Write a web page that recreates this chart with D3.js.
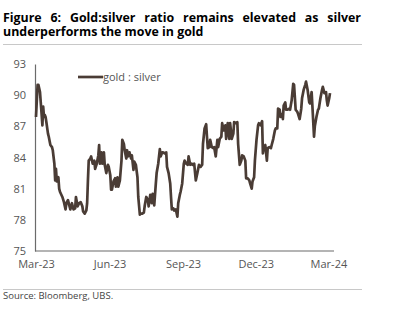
<!DOCTYPE html>
<html>
<head>
<meta charset="utf-8">
<script src="https://cdn.jsdelivr.net/npm/d3@7"></script>
<style>
  body { margin: 0; background: #fff; }
  svg { display: block; font-family: "Open Sans", "Noto Sans", sans-serif; }
</style>
</head>
<body>
<div id="chart"></div>
<script>
// gold:silver ratio
const dates = [
  "2023-03-01","2023-03-03","2023-03-04","2023-03-06","2023-03-08","2023-03-09","2023-03-10","2023-03-11",
  "2023-03-12","2023-03-13","2023-03-14","2023-03-16","2023-03-17","2023-03-19","2023-03-21","2023-03-22",
  "2023-03-24","2023-03-25","2023-03-26","2023-03-27","2023-03-29","2023-03-30","2023-03-31","2023-04-03",
  "2023-04-05","2023-04-07","2023-04-08","2023-04-10","2023-04-12","2023-04-13","2023-04-15","2023-04-17",
  "2023-04-19","2023-04-20","2023-04-22","2023-04-24","2023-04-26","2023-04-28","2023-04-29","2023-05-01",
  "2023-05-03","2023-05-04","2023-05-05","2023-05-06","2023-05-08","2023-05-09","2023-05-11","2023-05-13",
  "2023-05-14","2023-05-16","2023-05-18","2023-05-19","2023-05-20","2023-05-22","2023-05-23","2023-05-25",
  "2023-05-26","2023-05-28","2023-05-30","2023-05-31","2023-06-02","2023-06-03","2023-06-04","2023-06-06",
  "2023-06-08","2023-06-09","2023-06-11","2023-06-12","2023-06-14","2023-06-16","2023-06-17","2023-06-19",
  "2023-06-20","2023-06-22","2023-06-23","2023-06-24","2023-06-26","2023-06-28","2023-06-29","2023-07-01",
  "2023-07-02","2023-07-04","2023-07-06","2023-07-07","2023-07-09","2023-07-10","2023-07-12","2023-07-14",
  "2023-07-15","2023-07-17","2023-07-19","2023-07-20","2023-07-22","2023-07-24","2023-07-25","2023-07-27",
  "2023-07-29","2023-07-30","2023-08-01","2023-08-03","2023-08-04","2023-08-06","2023-08-07","2023-08-09",
  "2023-08-11","2023-08-12","2023-08-14","2023-08-16","2023-08-17","2023-08-18","2023-08-20","2023-08-21",
  "2023-08-23","2023-08-25","2023-08-26","2023-08-28","2023-08-29","2023-08-31","2023-09-02","2023-09-03",
  "2023-09-05","2023-09-07","2023-09-08","2023-09-10","2023-09-12","2023-09-13","2023-09-15","2023-09-17",
  "2023-09-19","2023-09-21","2023-09-23","2023-09-25","2023-09-26","2023-09-28","2023-09-30","2023-10-01",
  "2023-10-02","2023-10-04","2023-10-05","2023-10-07","2023-10-09","2023-10-10","2023-10-12","2023-10-14",
  "2023-10-15","2023-10-17","2023-10-19","2023-10-20","2023-10-22","2023-10-24","2023-10-25","2023-10-27",
  "2023-10-29","2023-10-30","2023-11-01","2023-11-03","2023-11-04","2023-11-06","2023-11-08","2023-11-09",
  "2023-11-11","2023-11-13","2023-11-14","2023-11-16","2023-11-18","2023-11-19","2023-11-21","2023-11-23",
  "2023-11-24","2023-11-26","2023-11-27","2023-11-29","2023-11-30","2023-12-02","2023-12-04","2023-12-05",
  "2023-12-07","2023-12-09","2023-12-10","2023-12-11","2023-12-13","2023-12-15","2023-12-16","2023-12-18",
  "2023-12-20","2023-12-21","2023-12-23","2023-12-25","2023-12-26","2023-12-28","2023-12-29","2023-12-31",
  "2024-01-01","2024-01-03","2024-01-04","2024-01-05","2024-01-07","2024-01-08","2024-01-10","2024-01-12",
  "2024-01-13","2024-01-15","2024-01-17","2024-01-18","2024-01-20","2024-01-22","2024-01-23","2024-01-25",
  "2024-01-27","2024-01-28","2024-01-30","2024-02-01","2024-02-02","2024-02-04","2024-02-06","2024-02-07",
  "2024-02-09","2024-02-10","2024-02-12","2024-02-13","2024-02-15","2024-02-17","2024-02-18","2024-02-20",
  "2024-02-22","2024-02-23","2024-02-25","2024-02-27","2024-02-28","2024-02-29","2024-03-02","2024-03-03"
];

const ratio = [
  87.9, 91.0, 91.0, 90.3, 88.2, 87.1, 88.9, 87.9,
  88.1, 87.9, 87.4, 86.3, 86.0, 85.2, 85.0, 84.7,
  83.4, 81.8, 82.9, 81.7, 82.1, 81.0, 80.7, 80.2,
  79.7, 79.0, 79.6, 79.9, 79.3, 79.0, 79.6, 79.0,
  79.1, 80.2, 79.3, 79.6, 79.7, 79.3, 78.8, 78.6,
  78.9, 79.6, 81.8, 83.7, 83.9, 84.1, 83.4, 83.7,
  82.9, 83.4, 84.2, 85.2, 83.4, 84.5, 83.4, 84.5,
  83.3, 82.5, 83.3, 83.1, 82.3, 80.9, 80.9, 81.7,
  82.0, 81.2, 82.1, 81.2, 81.8, 83.7, 85.7, 85.3,
  84.7, 83.9, 84.7, 84.1, 84.5, 83.9, 84.2, 82.8,
  83.6, 83.3, 82.1, 80.2, 78.5, 78.6, 78.6, 78.7,
  79.3, 80.2, 79.9, 79.3, 80.4, 79.6, 80.5, 79.4,
  81.5, 82.5, 83.4, 84.8, 84.1, 84.5, 84.5, 84.4,
  84.5, 83.1, 82.5, 81.5, 80.2, 79.0, 79.1, 78.9,
  79.0, 78.3, 79.6, 80.4, 80.7, 81.5, 83.4, 83.7,
  83.4, 83.3, 84.1, 83.3, 83.4, 83.3, 83.4, 81.8,
  82.5, 83.3, 83.1, 83.3, 85.3, 86.8, 87.2, 86.0,
  84.9, 85.0, 85.7, 85.0, 84.9, 85.0, 84.1, 85.7,
  85.0, 85.8, 86.0, 87.3, 86.6, 87.1, 85.8, 87.3,
  85.8, 87.3, 85.8, 86.3, 87.4, 87.3, 87.4, 85.3,
  83.3, 83.7, 84.2, 84.1, 83.7, 82.0, 82.0, 81.8,
  81.5, 81.0, 81.7, 82.1, 83.7, 85.7, 87.1, 87.3,
  87.1, 87.5, 84.4, 85.0, 85.2, 83.7, 84.9, 85.0,
  84.9, 85.2, 85.8, 86.6, 86.8, 86.8, 88.7, 88.6,
  87.9, 88.2, 87.7, 89.0, 89.3, 88.6, 88.6, 88.7,
  88.6, 89.5, 91.1, 91.0, 88.6, 88.4, 88.2, 87.7,
  88.7, 89.7, 90.5, 91.0, 91.3, 90.5, 89.3, 89.2,
  90.3, 88.9, 86.0, 87.0, 87.9, 88.6, 88.7, 89.7,
  90.5, 90.8, 90.2, 90.3, 89.5, 89.0, 89.7, 90.2
];

const yTicks = [75, 78, 81, 84, 87, 90, 93];
const xTickDates = ["2023-03-01", "2023-06-01", "2023-09-01", "2023-12-01", "2024-03-01"];
const titleLines = [
  "Figure 6: Gold:silver ratio remains elevated as silver",
  "underperforms the move in gold"
];
const seriesName = "gold : silver";
const sourceNote = "Source: Bloomberg, UBS.";

const width = 393, height = 335;
const margin = { left: 35, right: 59, top: 64, bottom: 84 };
const lineColor = "#4a3c35";

const parse = d3.timeParse("%Y-%m-%d");
const data = dates.map((d, i) => ({ date: parse(d), value: ratio[i] }));

const svg = d3.select("#chart").append("svg")
  .attr("width", width)
  .attr("height", height);

// Title (first line justified like the original)
const title = svg.append("g")
  .attr("font-weight", "bold")
  .attr("font-size", "12.4px")
  .attr("fill", "#000");

const firstWords = titleLines[0].split(" ");
const wordNodes = firstWords.map(w => title.append("text").attr("y", 22).text(w));
const widths = wordNodes.map(n => n.node().getComputedTextLength());
const lineStart = 3, lineEnd = 361;
const gap = (lineEnd - lineStart - d3.sum(widths)) / (firstWords.length - 1);
let cx = lineStart;
wordNodes.forEach((n, i) => {
  n.attr("x", cx);
  cx += widths[i] + gap;
});
title.append("text").attr("x", lineStart).attr("y", 36).text(titleLines[1]);

svg.append("line")
  .attr("x1", 3).attr("x2", 362)
  .attr("y1", 44.5).attr("y2", 44.5)
  .attr("stroke", "#c8c8c8");

// Scales
const x = d3.scaleTime()
  .domain([parse("2023-03-01"), parse("2024-03-08")])
  .range([margin.left + 1, width - margin.right]);

const y = d3.scaleLinear()
  .domain([75, 93])
  .range([height - margin.bottom, margin.top]);

// Axes
const yAxis = svg.append("g")
  .attr("transform", `translate(${margin.left},0)`)
  .call(d3.axisLeft(y).tickValues(yTicks).tickSize(0).tickPadding(9));
yAxis.select(".domain").attr("stroke", "#6b6b6b").attr("stroke-width", 1.2);
yAxis.selectAll("text")
  .attr("font-size", "11px")
  .attr("fill", "#555")
  .attr("font-family", "'Open Sans', sans-serif");

const xAxis = svg.append("g")
  .attr("transform", `translate(0,${height - margin.bottom})`)
  .call(d3.axisBottom(x)
    .tickValues(xTickDates.map(parse))
    .tickFormat(d3.timeFormat("%b-%y"))
    .tickSize(0)
    .tickPadding(9));
xAxis.select(".domain").attr("stroke", "#6b6b6b").attr("stroke-width", 1.2)
  .attr("d", `M${margin.left},0H${width - margin.right}`);
xAxis.selectAll("text")
  .attr("font-size", "11px")
  .attr("fill", "#555")
  .attr("font-family", "'Open Sans', sans-serif");

// Series line
const line = d3.line()
  .x(d => x(d.date))
  .y(d => y(d.value));

svg.append("path")
  .datum(data)
  .attr("fill", "none")
  .attr("stroke", lineColor)
  .attr("stroke-width", 2.7)
  .attr("stroke-linejoin", "round")
  .attr("d", line);

// Legend
const legend = svg.append("g").attr("transform", "translate(78,77)");
legend.append("line")
  .attr("x1", 0).attr("x2", 25)
  .attr("stroke", lineColor)
  .attr("stroke-width", 2.7);
legend.append("text")
  .attr("x", 25)
  .attr("dy", "0.35em")
  .attr("font-size", "11px")
  .attr("fill", "#555")
  .text(seriesName);

// Footer
svg.append("line")
  .attr("x1", 3).attr("x2", 362)
  .attr("y1", 289.5).attr("y2", 289.5)
  .attr("stroke", "#c8c8c8");

svg.append("text")
  .attr("x", 3)
  .attr("y", 299)
  .attr("font-size", "9.5px")
  .attr("fill", "#444")
  .text(sourceNote);
</script>
</body>
</html>
